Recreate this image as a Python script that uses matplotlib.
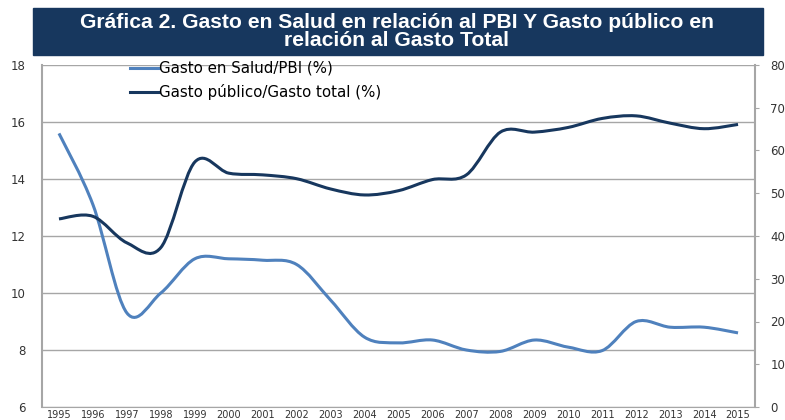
import matplotlib
matplotlib.use('agg')
from matplotlib import pyplot as plt
from matplotlib.path import Path
from matplotlib.patches import PathPatch, Rectangle
from matplotlib.lines import Line2D

years = list(range(1995, 2016))
salud_pbi = [15.6, 13.1, 9.3, 10.0, 11.2, 11.2, 11.15, 11.0, 9.75, 8.45, 8.25,
             8.35, 8.0, 7.95, 8.35, 8.1, 7.98, 9.0, 8.8, 8.8, 8.6]
publico_total = [44.0, 44.6, 38.4, 37.3, 57.3, 54.7, 54.3, 53.4, 51.0, 49.6, 50.6,
                 53.2, 54.3, 64.3, 64.3, 65.4, 67.5, 68.1, 66.4, 65.1, 66.1]

c_light = '#4f81bd'
c_dark = '#17375e'
c_grid = '#a6a6a6'


def smooth_path(xs, ys):
    # curva suavizada estilo Excel (bezier con tangentes catmull-rom)
    n = len(xs)
    verts = [(xs[0], ys[0])]
    codes = [Path.MOVETO]
    for i in range(n - 1):
        x0, y0 = (xs[i - 1], ys[i - 1]) if i > 0 else (xs[i], ys[i])
        x3, y3 = (xs[i + 2], ys[i + 2]) if i + 2 < n else (xs[i + 1], ys[i + 1])
        x1, y1 = xs[i], ys[i]
        x2, y2 = xs[i + 1], ys[i + 1]
        verts += [(x1 + (x2 - x0) / 6, y1 + (y2 - y0) / 6),
                  (x2 - (x3 - x1) / 6, y2 - (y3 - y1) / 6),
                  (x2, y2)]
        codes += [Path.CURVE4] * 3
    return Path(verts, codes)


fig = plt.figure(figsize=(7.85, 4.2), dpi=100)
ax = fig.add_axes([42 / 785, 13 / 420, 713 / 785, 342 / 420])
ax2 = ax.twinx()

# titulo
fig.patches.append(Rectangle((33 / 785, 1 - 55 / 420), 730 / 785, 47 / 420,
                             transform=fig.transFigure, color=c_dark, zorder=0))
fig.text(397 / 785, 1 - 31.5 / 420,
         'Gráfica 2. Gasto en Salud en relación al PBI Y Gasto público en\nrelación al Gasto Total',
         ha='center', va='center', color='white', fontsize=15.2, fontweight='bold',
         family='Liberation Sans', linespacing=0.95)

ax.set_xlim(1994.5, 2015.5)
ax.set_ylim(6, 18)
ax.set_yticks(range(6, 19, 2))
ax2.set_ylim(0, 80)
ax2.set_yticks(range(0, 81, 10))
ax.set_xticks(years)
ax.set_xticklabels([str(y) for y in years], fontsize=7)
ax.grid(axis='y', color=c_grid, linewidth=1)
ax.set_axisbelow(True)

ax.add_patch(PathPatch(smooth_path(years, salud_pbi), fill=False,
                       edgecolor=c_light, linewidth=2.2, zorder=3))
ax2.add_patch(PathPatch(smooth_path(years, publico_total), fill=False,
                        edgecolor=c_dark, linewidth=2.2, zorder=3))

for a in (ax, ax2):
    for s in a.spines.values():
        s.set_color(c_grid)
    a.spines['top'].set_visible(False)
ax2.spines['left'].set_visible(False)
ax.spines['right'].set_visible(False)
ax2.spines['bottom'].set_visible(False)
ax.spines['left'].set_linewidth(1.5)
ax2.spines['right'].set_linewidth(1.5)

ax.tick_params(axis='y', length=0, pad=12, labelsize=8.5, labelcolor='#333333')
ax.tick_params(axis='x', length=0, pad=2.5, labelsize=7, labelcolor='#333333')
ax2.tick_params(axis='y', length=3, color=c_grid, pad=8, labelsize=8.5, labelcolor='#333333')

handles = [Line2D([], [], color=c_light, linewidth=2.2),
           Line2D([], [], color=c_dark, linewidth=2.2)]
ax.legend(handles, ['Gasto en Salud/PBI (%)', 'Gasto público/Gasto total (%)'],
          loc='upper left', bbox_to_anchor=(0.109, 1.043), frameon=False,
          fontsize=10.8, handlelength=1.9, handletextpad=0.05, labelspacing=0.55,
          borderaxespad=0.3)

fig.savefig('out.png', dpi=100)
